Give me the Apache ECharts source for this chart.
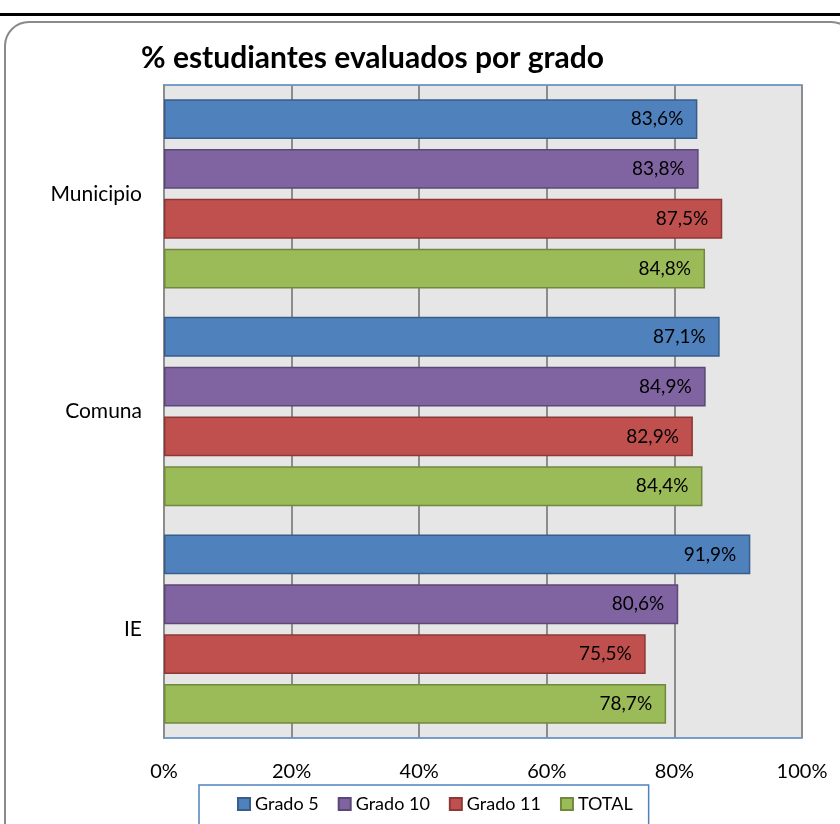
<!DOCTYPE html>
<html>
<head>
<meta charset="utf-8">
<script src="https://cdn.jsdelivr.net/npm/echarts@6/dist/echarts.min.js"></script>
<style>
  html, body { margin: 0; padding: 0; background: #fff; }
  #myChart { width: 840px; height: 824px; }
</style>
</head>
<body>
<div id="myChart"></div>
<script>
// datos
const categorias = ['Municipio', 'Comuna', 'IE'];
const series = ['Grado 5', 'Grado 10', 'Grado 11', 'TOTAL'];
const grado5 = [83.6, 87.1, 91.9];
const grado10 = [83.8, 84.9, 80.6];
const grado11 = [87.5, 82.9, 75.5];
const total = [84.8, 84.4, 78.7];
const ticks = ['0%', '20%', '40%', '60%', '80%', '100%'];

const colores = ['#4F81BD', '#8064A2', '#C0504D', '#9BBB59'];
const bordes = ['#385D8A', '#5C4776', '#8C3836', '#71893F'];
const valores = [grado5, grado10, grado11, total];

const fuente = 'Lato, "Open Sans", sans-serif';

let myChart = echarts.init(document.getElementById('myChart'));

let option = {
  animation: false,
  textStyle: { fontFamily: fuente },
  title: {
    text: '% estudiantes evaluados por grado',
    left: 136,
    top: 38,
    textStyle: { fontSize: 30, fontWeight: 'bold', color: '#000', fontFamily: fuente }
  },
  // marco redondeado y linea superior
  graphic: [
    { type: 'rect', shape: { x: 0, y: 13, width: 840, height: 3 }, style: { fill: '#000' }, z: -1 },
    { type: 'rect', shape: { x: 5, y: 22, width: 850, height: 840, r: 24 },
      style: { fill: 'none', stroke: '#8a8a8a', lineWidth: 2 }, z: -1 }
  ],
  legend: {
    data: series,
    left: 199,
    top: 785,
    width: 456,
    padding: [10, 16, 30, 38],
    itemGap: 19,
    itemWidth: 12,
    itemHeight: 12,
    icon: 'rect',
    borderColor: '#4F81BD',
    borderWidth: 1.5,
    textStyle: { fontSize: 18, color: '#000', padding: [0, 0, 0, 0] }
  },
  grid: {
    left: 164,
    right: 38,
    top: 85,
    bottom: 86,
    show: true,
    backgroundColor: '#E6E6E6',
    borderColor: '#4F81BD',
    borderWidth: 1.5
  },
  xAxis: {
    type: 'value',
    min: 0,
    max: 100,
    interval: 20,
    axisLine: { show: false },
    axisTick: { show: false },
    splitLine: { lineStyle: { color: '#8c8c8c', width: 2 } },
    axisLabel: {
      margin: 24,
      fontSize: 20,
      color: '#000',
      formatter: v => ticks[v / 20]
    }
  },
  yAxis: {
    type: 'category',
    data: categorias,
    inverse: true,
    axisLine: { show: true, lineStyle: { color: '#8c8c8c', width: 2 } },
    axisTick: { show: false },
    axisLabel: { fontSize: 21, color: '#000', margin: 22 }
  },
  series: series.map((nombre, i) => ({
    name: nombre,
    type: 'bar',
    data: valores[i],
    barGap: '25%',
    barCategoryGap: '13%',
    itemStyle: { color: colores[i], borderColor: bordes[i], borderWidth: 1.5 },
    label: {
      show: true,
      position: 'insideRight',
      distance: 14,
      fontSize: 19,
      color: '#000',
      formatter: p => p.value.toFixed(1).replace('.', ',') + '%'
    }
  }))
};

myChart.setOption(option);
</script>
</body>
</html>
